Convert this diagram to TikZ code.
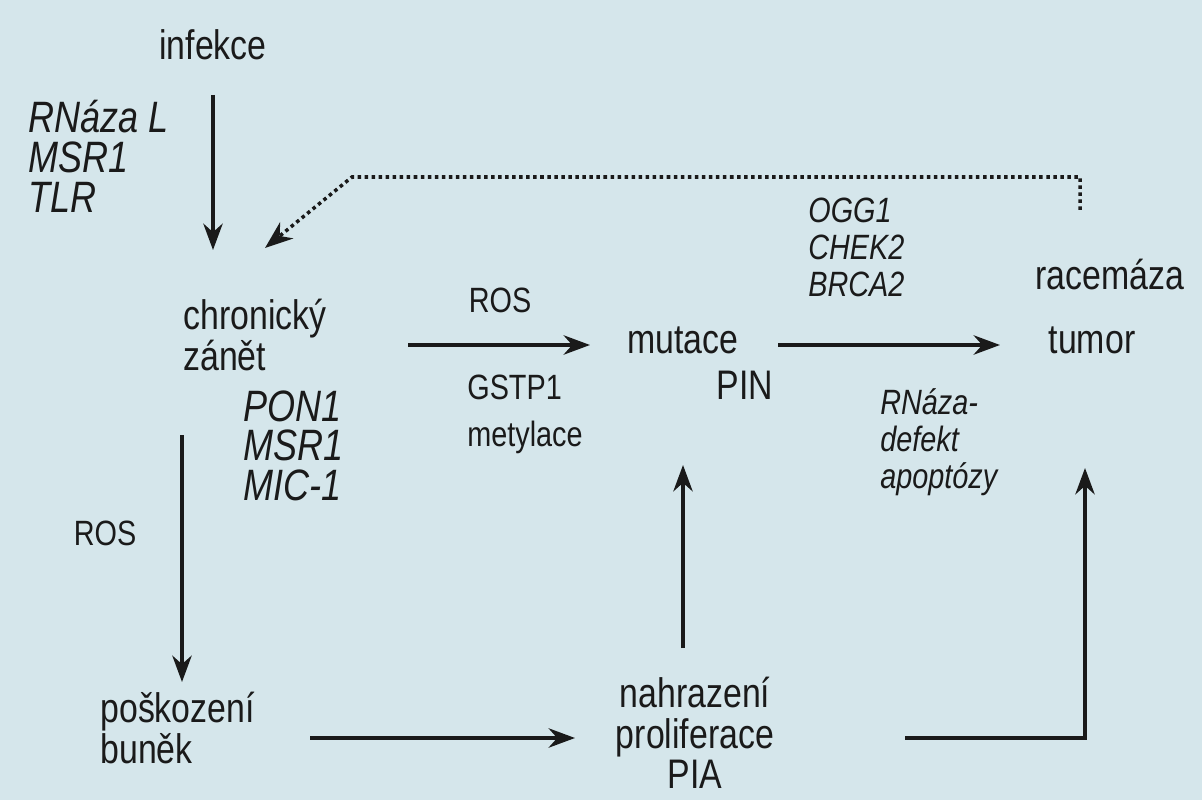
\documentclass[tikz,border=0pt]{standalone}
\usepackage{fontspec}
\setmainfont{Liberation Sans}[FakeStretch=0.82]
\usetikzlibrary{arrows.meta,calc}
\definecolor{bg}{HTML}{D5E6EB}
\definecolor{ink}{HTML}{1A1A1A}
\begin{document}
\begin{tikzpicture}[x=0.02cm,y=-0.02cm,
  big/.style={text=ink,font=\fontsize{23.5}{23}\selectfont,inner sep=0pt},
  gene/.style={text=ink,font=\fontsize{25}{22.7}\selectfont\itshape,inner sep=0pt,align=left,anchor=north west},
  sgene/.style={text=ink,font=\fontsize{20}{21}\selectfont\itshape,inner sep=0pt,align=left,anchor=north west},
  small/.style={text=ink,font=\fontsize{20}{26.7}\selectfont,inner sep=0pt},
  arr/.style={draw=ink,line width=2.2pt,-{Stealth[length=15pt,width=11pt]}},
  dot/.style={draw=ink,line width=2pt,dotted}]
\fill[bg] (0,0) rectangle (1202,800);
\useasboundingbox (0,0) rectangle (1202,800);
\node[big] (inf) at (213,45) {infekce};
\node[gene] (g1) at (28,100) {RNáza L\\MSR1\\TLR};
\node[big,align=left,anchor=west] (chz) at (183,335) {chronický\\zánět};
\node[gene] (g2) at (243,390) {PON1\\MSR1\\MIC-1};
\node[small] (ros1) at (500,300) {ROS};
\node[small,align=left,anchor=north west] (gst) at (467,375) {GSTP1\\metylace};
\node[big] (mut) at (683,340) {mutace};
\node[big] (pin) at (745,385) {PIN};
\node[sgene] (g3) at (808,198) {OGG1\\CHEK2\\BRCA2};
\node[big] (rac) at (1110,275) {racemáza};
\node[big] (tum) at (1092,340) {tumor};
\node[sgene] (g4) at (880,388) {RNáza-\\defekt\\apoptózy};
\node[small] (ros2) at (105,533) {ROS};
\node[big,align=left,anchor=west] (pos) at (100,728) {poškození\\buněk};
\node[big,align=center] (nah) at (695,733) {nahrazení\\proliferace\\PIA};
\coordinate (a1) at (213,95); \coordinate (a2) at (213,250);
\draw[arr] (a1) -- (a2);
\coordinate (d0) at (1080,210); \coordinate (d1) at (1080,177); \coordinate (d2) at (352,177); \coordinate (d3) at (265,248);
\coordinate (d4) at ($(d3)!0.15!(d2)$);
\draw[dot] (d0) -- (d1) -- (d2) -- (d4);
\draw[ink,line width=1pt,-{Stealth[length=16pt,width=12pt]}] (d4) -- (d3);
\coordinate (b1) at (408,345); \coordinate (b2) at (590,345);
\draw[arr] (b1) -- (b2);
\coordinate (c1) at (778,345); \coordinate (c2) at (1000,345);
\draw[arr] (c1) -- (c2);
\coordinate (e1) at (182,435); \coordinate (e2) at (182,682);
\draw[arr] (e1) -- (e2);
\coordinate (f1) at (310,738); \coordinate (f2) at (575,738);
\draw[arr] (f1) -- (f2);
\coordinate (h1) at (683,648); \coordinate (h2) at (683,465);
\draw[arr] (h1) -- (h2);
\coordinate (k1) at (905,738); \coordinate (k2) at (1085,738); \coordinate (k3) at (1085,468);
\draw[arr] (k1) -- (k2) -- (k3);
\end{tikzpicture}
\end{document}
